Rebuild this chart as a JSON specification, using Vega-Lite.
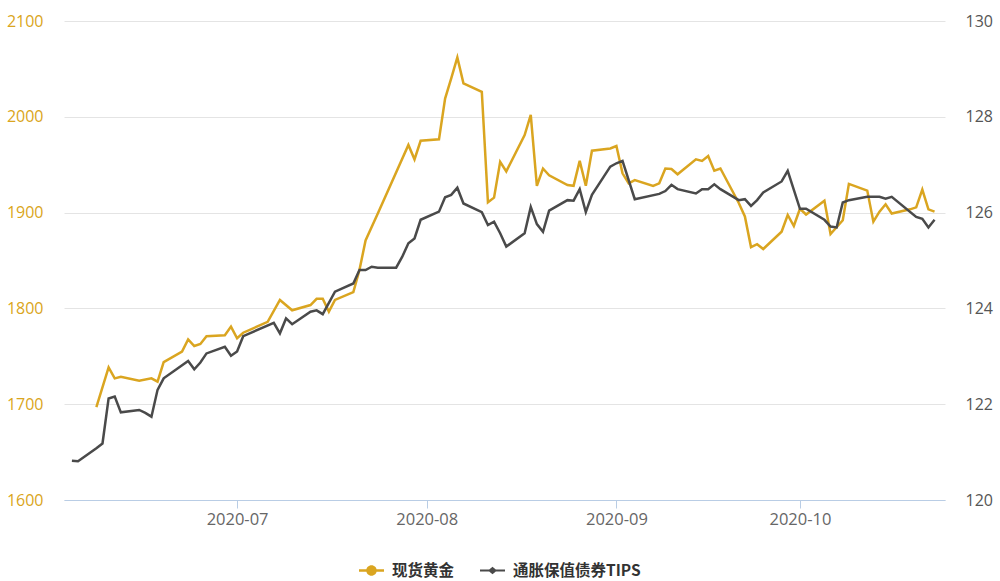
{
  "$schema": "https://vega.github.io/schema/vega-lite/v6.json",
  "width": 881,
  "height": 479,
  "autosize": "none",
  "padding": {"left": 64, "top": 21, "right": 55, "bottom": 81},
  "background": "white",
  "config": {
    "view": {"stroke": null},
    "axis": {"labelFont": "Open Sans", "labelFontSize": 15, "title": null}
  },
  "data": {
    "values": [
      {"date": "2020-06-08", "series": "现货黄金", "value": 1697},
      {"date": "2020-06-10", "series": "现货黄金", "value": 1738.5},
      {"date": "2020-06-11", "series": "现货黄金", "value": 1727},
      {"date": "2020-06-12", "series": "现货黄金", "value": 1728.7},
      {"date": "2020-06-15", "series": "现货黄金", "value": 1724.5},
      {"date": "2020-06-17", "series": "现货黄金", "value": 1727},
      {"date": "2020-06-18", "series": "现货黄金", "value": 1723.5},
      {"date": "2020-06-19", "series": "现货黄金", "value": 1744},
      {"date": "2020-06-22", "series": "现货黄金", "value": 1755},
      {"date": "2020-06-23", "series": "现货黄金", "value": 1767.7},
      {"date": "2020-06-24", "series": "现货黄金", "value": 1760.7},
      {"date": "2020-06-25", "series": "现货黄金", "value": 1762.8},
      {"date": "2020-06-26", "series": "现货黄金", "value": 1771},
      {"date": "2020-06-29", "series": "现货黄金", "value": 1772},
      {"date": "2020-06-30", "series": "现货黄金", "value": 1781},
      {"date": "2020-07-01", "series": "现货黄金", "value": 1768.8},
      {"date": "2020-07-02", "series": "现货黄金", "value": 1774.6},
      {"date": "2020-07-06", "series": "现货黄金", "value": 1786},
      {"date": "2020-07-08", "series": "现货黄金", "value": 1808.8},
      {"date": "2020-07-10", "series": "现货黄金", "value": 1798},
      {"date": "2020-07-13", "series": "现货黄金", "value": 1803.5},
      {"date": "2020-07-14", "series": "现货黄金", "value": 1810},
      {"date": "2020-07-15", "series": "现货黄金", "value": 1810},
      {"date": "2020-07-16", "series": "现货黄金", "value": 1796.6},
      {"date": "2020-07-17", "series": "现货黄金", "value": 1808.8},
      {"date": "2020-07-20", "series": "现货黄金", "value": 1817},
      {"date": "2020-07-21", "series": "现货黄金", "value": 1840},
      {"date": "2020-07-22", "series": "现货黄金", "value": 1871},
      {"date": "2020-07-24", "series": "现货黄金", "value": 1899},
      {"date": "2020-07-29", "series": "现货黄金", "value": 1970.6},
      {"date": "2020-07-30", "series": "现货黄金", "value": 1955.6},
      {"date": "2020-07-31", "series": "现货黄金", "value": 1975},
      {"date": "2020-08-03", "series": "现货黄金", "value": 1976.5},
      {"date": "2020-08-04", "series": "现货黄金", "value": 2019},
      {"date": "2020-08-05", "series": "现货黄金", "value": 2040},
      {"date": "2020-08-06", "series": "现货黄金", "value": 2062},
      {"date": "2020-08-07", "series": "现货黄金", "value": 2035},
      {"date": "2020-08-10", "series": "现货黄金", "value": 2026},
      {"date": "2020-08-11", "series": "现货黄金", "value": 1910.7},
      {"date": "2020-08-12", "series": "现货黄金", "value": 1915.6},
      {"date": "2020-08-13", "series": "现货黄金", "value": 1953},
      {"date": "2020-08-14", "series": "现货黄金", "value": 1943},
      {"date": "2020-08-17", "series": "现货黄金", "value": 1981},
      {"date": "2020-08-18", "series": "现货黄金", "value": 2002},
      {"date": "2020-08-19", "series": "现货黄金", "value": 1928},
      {"date": "2020-08-20", "series": "现货黄金", "value": 1946},
      {"date": "2020-08-21", "series": "现货黄金", "value": 1939},
      {"date": "2020-08-24", "series": "现货黄金", "value": 1928.8},
      {"date": "2020-08-25", "series": "现货黄金", "value": 1928},
      {"date": "2020-08-26", "series": "现货黄金", "value": 1954},
      {"date": "2020-08-27", "series": "现货黄金", "value": 1928},
      {"date": "2020-08-28", "series": "现货黄金", "value": 1964.6},
      {"date": "2020-08-31", "series": "现货黄金", "value": 1967},
      {"date": "2020-09-01", "series": "现货黄金", "value": 1969.5},
      {"date": "2020-09-02", "series": "现货黄金", "value": 1941},
      {"date": "2020-09-03", "series": "现货黄金", "value": 1930.6},
      {"date": "2020-09-04", "series": "现货黄金", "value": 1934},
      {"date": "2020-09-07", "series": "现货黄金", "value": 1927.8},
      {"date": "2020-09-08", "series": "现货黄金", "value": 1930.6},
      {"date": "2020-09-09", "series": "现货黄金", "value": 1946},
      {"date": "2020-09-10", "series": "现货黄金", "value": 1945.5},
      {"date": "2020-09-11", "series": "现货黄金", "value": 1940},
      {"date": "2020-09-14", "series": "现货黄金", "value": 1955.6},
      {"date": "2020-09-15", "series": "现货黄金", "value": 1954},
      {"date": "2020-09-16", "series": "现货黄金", "value": 1959},
      {"date": "2020-09-17", "series": "现货黄金", "value": 1943.7},
      {"date": "2020-09-18", "series": "现货黄金", "value": 1946},
      {"date": "2020-09-21", "series": "现货黄金", "value": 1910},
      {"date": "2020-09-22", "series": "现货黄金", "value": 1896},
      {"date": "2020-09-23", "series": "现货黄金", "value": 1864},
      {"date": "2020-09-24", "series": "现货黄金", "value": 1867},
      {"date": "2020-09-25", "series": "现货黄金", "value": 1862},
      {"date": "2020-09-28", "series": "现货黄金", "value": 1880},
      {"date": "2020-09-29", "series": "现货黄金", "value": 1897.5},
      {"date": "2020-09-30", "series": "现货黄金", "value": 1886},
      {"date": "2020-10-01", "series": "现货黄金", "value": 1904},
      {"date": "2020-10-02", "series": "现货黄金", "value": 1898},
      {"date": "2020-10-05", "series": "现货黄金", "value": 1912.4},
      {"date": "2020-10-06", "series": "现货黄金", "value": 1877.7},
      {"date": "2020-10-08", "series": "现货黄金", "value": 1892},
      {"date": "2020-10-09", "series": "现货黄金", "value": 1930},
      {"date": "2020-10-12", "series": "现货黄金", "value": 1923},
      {"date": "2020-10-13", "series": "现货黄金", "value": 1890.5},
      {"date": "2020-10-14", "series": "现货黄金", "value": 1901},
      {"date": "2020-10-15", "series": "现货黄金", "value": 1908.7},
      {"date": "2020-10-16", "series": "现货黄金", "value": 1899},
      {"date": "2020-10-19", "series": "现货黄金", "value": 1903.4},
      {"date": "2020-10-20", "series": "现货黄金", "value": 1905.5},
      {"date": "2020-10-21", "series": "现货黄金", "value": 1924},
      {"date": "2020-10-22", "series": "现货黄金", "value": 1903.4},
      {"date": "2020-10-23", "series": "现货黄金", "value": 1901},
      {"date": "2020-06-04", "series": "通胀保值债券TIPS", "value": 120.82},
      {"date": "2020-06-05", "series": "通胀保值债券TIPS", "value": 120.81},
      {"date": "2020-06-08", "series": "通胀保值债券TIPS", "value": 121.08},
      {"date": "2020-06-09", "series": "通胀保值债券TIPS", "value": 121.18},
      {"date": "2020-06-10", "series": "通胀保值债券TIPS", "value": 122.12},
      {"date": "2020-06-11", "series": "通胀保值债券TIPS", "value": 122.16},
      {"date": "2020-06-12", "series": "通胀保值债券TIPS", "value": 121.83},
      {"date": "2020-06-15", "series": "通胀保值债券TIPS", "value": 121.88},
      {"date": "2020-06-16", "series": "通胀保值债券TIPS", "value": 121.82},
      {"date": "2020-06-17", "series": "通胀保值债券TIPS", "value": 121.74},
      {"date": "2020-06-18", "series": "通胀保值债券TIPS", "value": 122.3},
      {"date": "2020-06-19", "series": "通胀保值债券TIPS", "value": 122.54},
      {"date": "2020-06-23", "series": "通胀保值债券TIPS", "value": 122.9},
      {"date": "2020-06-24", "series": "通胀保值债券TIPS", "value": 122.73},
      {"date": "2020-06-25", "series": "通胀保值债券TIPS", "value": 122.87},
      {"date": "2020-06-26", "series": "通胀保值债券TIPS", "value": 123.06},
      {"date": "2020-06-29", "series": "通胀保值债券TIPS", "value": 123.2},
      {"date": "2020-06-30", "series": "通胀保值债券TIPS", "value": 123.01},
      {"date": "2020-07-01", "series": "通胀保值债券TIPS", "value": 123.1},
      {"date": "2020-07-02", "series": "通胀保值债券TIPS", "value": 123.42},
      {"date": "2020-07-07", "series": "通胀保值债券TIPS", "value": 123.7},
      {"date": "2020-07-08", "series": "通胀保值债券TIPS", "value": 123.48},
      {"date": "2020-07-09", "series": "通胀保值债券TIPS", "value": 123.79},
      {"date": "2020-07-10", "series": "通胀保值债券TIPS", "value": 123.67},
      {"date": "2020-07-13", "series": "通胀保值债券TIPS", "value": 123.93},
      {"date": "2020-07-14", "series": "通胀保值债券TIPS", "value": 123.96},
      {"date": "2020-07-15", "series": "通胀保值债券TIPS", "value": 123.88},
      {"date": "2020-07-17", "series": "通胀保值债券TIPS", "value": 124.35},
      {"date": "2020-07-20", "series": "通胀保值债券TIPS", "value": 124.52},
      {"date": "2020-07-21", "series": "通胀保值债券TIPS", "value": 124.8},
      {"date": "2020-07-22", "series": "通胀保值债券TIPS", "value": 124.8},
      {"date": "2020-07-23", "series": "通胀保值债券TIPS", "value": 124.87},
      {"date": "2020-07-24", "series": "通胀保值债券TIPS", "value": 124.85},
      {"date": "2020-07-27", "series": "通胀保值债券TIPS", "value": 124.85},
      {"date": "2020-07-28", "series": "通胀保值债券TIPS", "value": 125.08},
      {"date": "2020-07-29", "series": "通胀保值债券TIPS", "value": 125.36},
      {"date": "2020-07-30", "series": "通胀保值债券TIPS", "value": 125.46},
      {"date": "2020-07-31", "series": "通胀保值债券TIPS", "value": 125.85},
      {"date": "2020-08-03", "series": "通胀保值债券TIPS", "value": 126.02},
      {"date": "2020-08-04", "series": "通胀保值债券TIPS", "value": 126.32},
      {"date": "2020-08-05", "series": "通胀保值债券TIPS", "value": 126.37},
      {"date": "2020-08-06", "series": "通胀保值债券TIPS", "value": 126.52},
      {"date": "2020-08-07", "series": "通胀保值债券TIPS", "value": 126.19},
      {"date": "2020-08-10", "series": "通胀保值债券TIPS", "value": 126.01},
      {"date": "2020-08-11", "series": "通胀保值债券TIPS", "value": 125.74},
      {"date": "2020-08-12", "series": "通胀保值债券TIPS", "value": 125.81},
      {"date": "2020-08-13", "series": "通胀保值债券TIPS", "value": 125.57},
      {"date": "2020-08-14", "series": "通胀保值债券TIPS", "value": 125.29},
      {"date": "2020-08-17", "series": "通胀保值债券TIPS", "value": 125.57},
      {"date": "2020-08-18", "series": "通胀保值债券TIPS", "value": 126.12},
      {"date": "2020-08-19", "series": "通胀保值债券TIPS", "value": 125.76},
      {"date": "2020-08-20", "series": "通胀保值债券TIPS", "value": 125.6},
      {"date": "2020-08-21", "series": "通胀保值债券TIPS", "value": 126.04},
      {"date": "2020-08-24", "series": "通胀保值债券TIPS", "value": 126.26},
      {"date": "2020-08-25", "series": "通胀保值债券TIPS", "value": 126.25},
      {"date": "2020-08-26", "series": "通胀保值债券TIPS", "value": 126.49},
      {"date": "2020-08-27", "series": "通胀保值债券TIPS", "value": 126.01},
      {"date": "2020-08-28", "series": "通胀保值债券TIPS", "value": 126.37},
      {"date": "2020-08-31", "series": "通胀保值债券TIPS", "value": 126.96},
      {"date": "2020-09-01", "series": "通胀保值债券TIPS", "value": 127.03},
      {"date": "2020-09-02", "series": "通胀保值债券TIPS", "value": 127.08},
      {"date": "2020-09-04", "series": "通胀保值债券TIPS", "value": 126.28},
      {"date": "2020-09-08", "series": "通胀保值债券TIPS", "value": 126.39},
      {"date": "2020-09-09", "series": "通胀保值债券TIPS", "value": 126.45},
      {"date": "2020-09-10", "series": "通胀保值债券TIPS", "value": 126.58},
      {"date": "2020-09-11", "series": "通胀保值债券TIPS", "value": 126.49},
      {"date": "2020-09-14", "series": "通胀保值债券TIPS", "value": 126.4},
      {"date": "2020-09-15", "series": "通胀保值债券TIPS", "value": 126.49},
      {"date": "2020-09-16", "series": "通胀保值债券TIPS", "value": 126.49},
      {"date": "2020-09-17", "series": "通胀保值债券TIPS", "value": 126.59},
      {"date": "2020-09-18", "series": "通胀保值债券TIPS", "value": 126.49},
      {"date": "2020-09-21", "series": "通胀保值债券TIPS", "value": 126.26},
      {"date": "2020-09-22", "series": "通胀保值债券TIPS", "value": 126.28},
      {"date": "2020-09-23", "series": "通胀保值债券TIPS", "value": 126.14},
      {"date": "2020-09-24", "series": "通胀保值债券TIPS", "value": 126.26},
      {"date": "2020-09-25", "series": "通胀保值债券TIPS", "value": 126.42},
      {"date": "2020-09-28", "series": "通胀保值债券TIPS", "value": 126.65},
      {"date": "2020-09-29", "series": "通胀保值债券TIPS", "value": 126.87},
      {"date": "2020-10-01", "series": "通胀保值债券TIPS", "value": 126.08},
      {"date": "2020-10-02", "series": "通胀保值债券TIPS", "value": 126.08},
      {"date": "2020-10-05", "series": "通胀保值债券TIPS", "value": 125.85},
      {"date": "2020-10-06", "series": "通胀保值债券TIPS", "value": 125.71},
      {"date": "2020-10-07", "series": "通胀保值债券TIPS", "value": 125.69},
      {"date": "2020-10-08", "series": "通胀保值债券TIPS", "value": 126.21},
      {"date": "2020-10-09", "series": "通胀保值债券TIPS", "value": 126.26},
      {"date": "2020-10-12", "series": "通胀保值债券TIPS", "value": 126.33},
      {"date": "2020-10-14", "series": "通胀保值债券TIPS", "value": 126.33},
      {"date": "2020-10-15", "series": "通胀保值债券TIPS", "value": 126.29},
      {"date": "2020-10-16", "series": "通胀保值债券TIPS", "value": 126.33},
      {"date": "2020-10-20", "series": "通胀保值债券TIPS", "value": 125.91},
      {"date": "2020-10-21", "series": "通胀保值债券TIPS", "value": 125.87},
      {"date": "2020-10-22", "series": "通胀保值债券TIPS", "value": 125.69},
      {"date": "2020-10-23", "series": "通胀保值债券TIPS", "value": 125.85}
    ]
  },
  "encoding": {
    "x": {
      "field": "date",
      "type": "temporal",
      "scale": {
        "type": "utc",
        "domain": [
          {"year": 2020, "month": 6, "date": 2, "hours": 17, "utc": true},
          {"year": 2020, "month": 10, "date": 24, "hours": 17, "utc": true}
        ]
      },
      "axis": {
        "values": [
          {"year": 2020, "month": 7, "date": 1, "utc": true},
          {"year": 2020, "month": 8, "date": 1, "utc": true},
          {"year": 2020, "month": 9, "date": 1, "utc": true},
          {"year": 2020, "month": 10, "date": 1, "utc": true}
        ],
        "format": "%Y-%m",
        "grid": false,
        "domainColor": "#b9cde5",
        "tickColor": "#b9cde5",
        "tickSize": 8,
        "labelColor": "#666666",
        "labelFontSize": 16.5,
        "labelPadding": 3
      }
    }
  },
  "layer": [
    {
      "transform": [{"filter": "datum.series == '现货黄金'"}],
      "mark": {"type": "line", "color": "#DAA520", "strokeWidth": 2.5},
      "encoding": {
        "y": {
          "field": "value",
          "type": "quantitative",
          "scale": {"domain": [1600, 2100], "nice": false, "zero": false},
          "axis": {
            "orient": "left",
            "values": [1600, 1700, 1800, 1900, 2000, 2100],
            "format": "d",
            "grid": true,
            "gridColor": "#e4e4e4",
            "domain": false,
            "ticks": false,
            "tickSize": 0,
            "labelPadding": 21,
            "labelFontSize": 16,
            "labelColor": "#DAA520"
          }
        }
      }
    },
    {
      "transform": [{"filter": "datum.series == '通胀保值债券TIPS'"}],
      "mark": {"type": "line", "color": "#4a4a4a", "strokeWidth": 2.5},
      "encoding": {
        "y": {
          "field": "value",
          "type": "quantitative",
          "scale": {"domain": [120, 130], "nice": false, "zero": false},
          "axis": {
            "orient": "right",
            "values": [120, 122, 124, 126, 128, 130],
            "format": "d",
            "grid": false,
            "domain": false,
            "ticks": false,
            "tickSize": 0,
            "labelPadding": 20,
            "labelFontSize": 16,
            "labelColor": "#555555"
          }
        }
      }
    },
    {
      "transform": [{"filter": "false"}],
      "mark": {"type": "point", "filled": true, "size": 625, "opacity": 1},
      "encoding": {
        "x": {"field": "date", "type": "temporal"},
        "color": {
          "field": "series",
          "type": "nominal",
          "scale": {"domain": ["现货黄金", "通胀保值债券TIPS"], "range": ["#DAA520", "#4a4a4a"]},
          "legend": {
            "orient": "none",
            "legendX": 294,
            "legendY": 536,
            "direction": "horizontal",
            "title": null,
            "symbolSize": 625,
            "labelFont": "Noto Sans CJK SC",
            "labelFontSize": 15.5,
            "labelFontWeight": "bold",
            "labelColor": "#333333",
            "labelOffset": 7,
            "columnPadding": 24
          }
        },
        "shape": {
          "field": "series",
          "type": "nominal",
          "scale": {
            "domain": ["现货黄金", "通胀保值债券TIPS"],
            "range": [
              "M-1,-0.1H1V0.1H-1Z M0.42,0A0.42,0.42,0,1,1,-0.42,0A0.42,0.42,0,1,1,0.42,0Z",
              "M-1,-0.08H1V0.08H-1Z M0,-0.3L0.36,0L0,0.3L-0.36,0Z"
            ]
          },
          "legend": {
            "orient": "none",
            "legendX": 294,
            "legendY": 536,
            "direction": "horizontal",
            "title": null,
            "symbolSize": 625,
            "labelFont": "Noto Sans CJK SC",
            "labelFontSize": 15.5,
            "labelFontWeight": "bold",
            "labelColor": "#333333",
            "labelOffset": 7,
            "columnPadding": 24
          }
        }
      }
    }
  ],
  "resolve": {"scale": {"y": "independent"}, "axis": {"y": "independent"}}
}
